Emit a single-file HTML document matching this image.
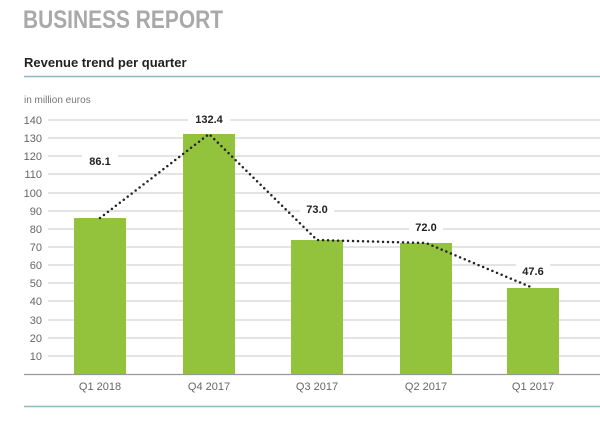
<!DOCTYPE html>
<html><head><style>body{margin:0;background:#fff}</style></head><body>
<svg width="600" height="420" xmlns="http://www.w3.org/2000/svg" font-family="Liberation Sans, sans-serif">
<text x="23" y="28" font-size="25" font-weight="bold" fill="#a9a9a9" textLength="200" lengthAdjust="spacingAndGlyphs">BUSINESS REPORT</text>
<text x="24" y="67" font-size="13" font-weight="bold" fill="#222">Revenue trend per quarter</text>
<line x1="24" y1="76.5" x2="600" y2="76.5" stroke="#8fb8c0" stroke-width="1.5"/>
<text x="24" y="103" font-size="10" fill="#777">in million euros</text>
<g stroke="#c8c8c8" stroke-width="1">
<line x1="48" x2="600" y1="120" y2="120"/><line x1="48" x2="600" y1="138" y2="138"/><line x1="48" x2="600" y1="156" y2="156"/><line x1="48" x2="600" y1="174" y2="174"/><line x1="48" x2="600" y1="193" y2="193"/><line x1="48" x2="600" y1="211" y2="211"/><line x1="48" x2="600" y1="229" y2="229"/><line x1="48" x2="600" y1="247" y2="247"/><line x1="48" x2="600" y1="265" y2="265"/><line x1="48" x2="600" y1="283" y2="283"/><line x1="48" x2="600" y1="301" y2="301"/><line x1="48" x2="600" y1="320" y2="320"/><line x1="48" x2="600" y1="338" y2="338"/><line x1="48" x2="600" y1="356" y2="356"/>
</g>
<g font-size="11" fill="#666" text-anchor="end">
<text x="42" y="124">140</text><text x="42" y="142">130</text><text x="42" y="160">120</text><text x="42" y="178">110</text><text x="42" y="197">100</text><text x="42" y="215">90</text><text x="42" y="233">80</text><text x="42" y="251">70</text><text x="42" y="269">60</text><text x="42" y="287">50</text><text x="42" y="305">40</text><text x="42" y="324">30</text><text x="42" y="342">20</text><text x="42" y="360">10</text>
</g>
<g fill="#93c23c">
<rect x="74" y="218" width="52" height="156"/><rect x="183" y="134" width="52" height="240"/><rect x="291" y="240" width="52" height="134"/><rect x="400" y="243" width="52" height="131"/><rect x="507" y="288" width="52" height="86"/>
</g>
<line x1="24" y1="374.5" x2="600" y2="374.5" stroke="#999" stroke-width="1.2"/>
<polyline points="100,218 209,134 317,240 426,243 533,288" fill="none" stroke="#222" stroke-width="2.5" stroke-dasharray="0 5" stroke-linecap="round"/>
<g fill="#fff"><rect x="82" y="152" width="36" height="16"/><rect x="188" y="110" width="42" height="16"/><rect x="300" y="200" width="34" height="16"/><rect x="409" y="218" width="34" height="16"/><rect x="516" y="262" width="34" height="16"/></g>
<g font-size="11" font-weight="bold" fill="#222" text-anchor="middle">
<text x="100" y="165">86.1</text><text x="209" y="123">132.4</text><text x="317" y="213">73.0</text><text x="426" y="231">72.0</text><text x="533" y="275">47.6</text>
</g>
<g font-size="11" fill="#666" text-anchor="middle">
<text x="100" y="390">Q1 2018</text><text x="209" y="390">Q4 2017</text><text x="317" y="390">Q3 2017</text><text x="426" y="390">Q2 2017</text><text x="533" y="390">Q1 2017</text>
</g>
<line x1="24" y1="406.5" x2="600" y2="406.5" stroke="#8fb8c0" stroke-width="1.5"/>
</svg>
</body></html>
